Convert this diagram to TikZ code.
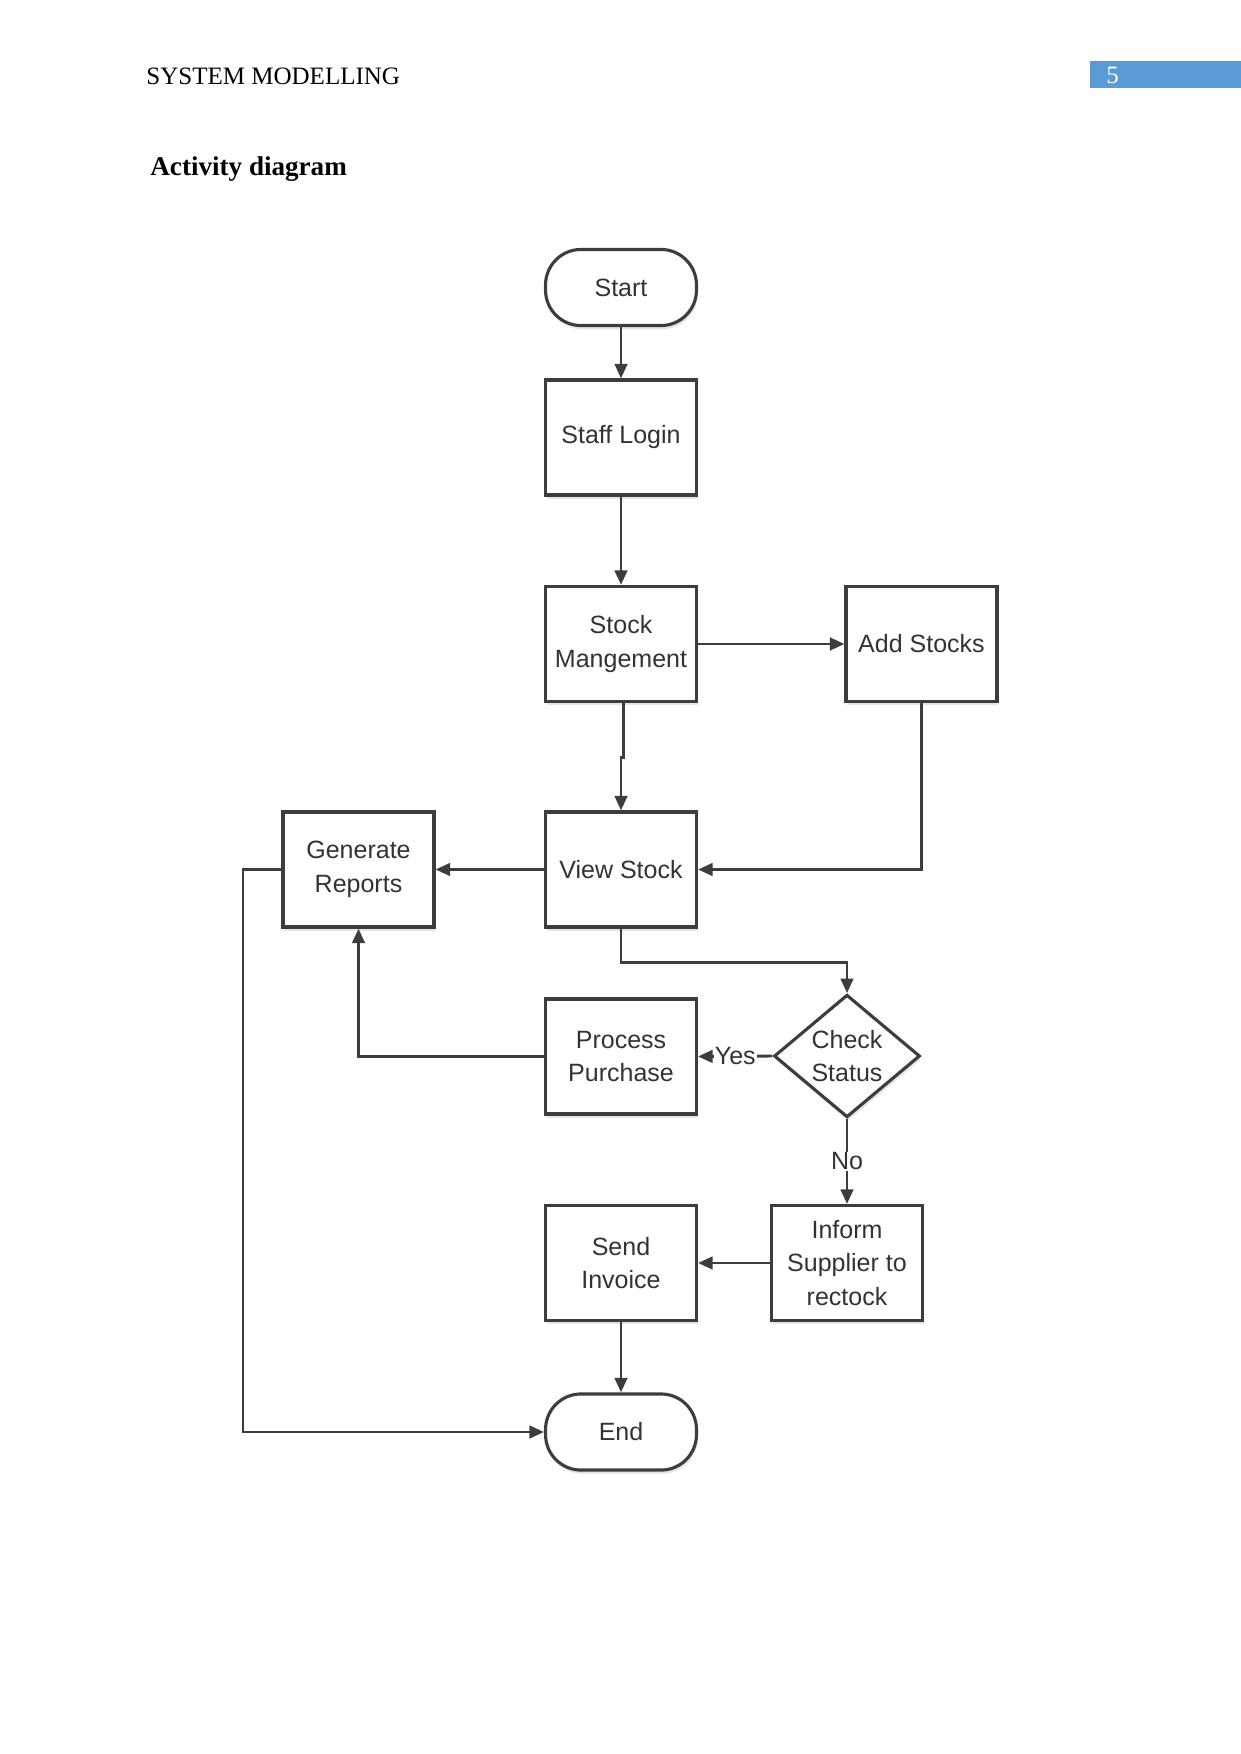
\documentclass[tikz,border=0pt]{standalone}
\usepackage{fontspec}
\setmainfont{Liberation Serif}
\newfontfamily\arialfont{Liberation Sans}
\usetikzlibrary{arrows.meta,shapes.geometric,shadows,calc}
\definecolor{ink}{HTML}{3D3D40}
\definecolor{txt}{HTML}{333333}
\definecolor{pgblue}{HTML}{5B9BD5}
\tikzset{
  shade/.style={drop shadow={fill=black,opacity=0.10,shadow xshift=0.6pt,shadow yshift=-1.8pt}},
  actbox/.style={draw=ink,line width=1.5pt,fill=white,shade,minimum width=72.4pt,minimum height=55.2pt,
    align=center,text=txt,font=\arialfont\fontsize{12}{16}\selectfont,inner sep=2pt},
  termbox/.style={actbox,rounded corners=17pt,minimum height=36.5pt},
  decbox/.style={draw=ink,line width=1.5pt,fill=white,shade,diamond,minimum width=70pt,minimum height=51pt,
    align=center,text=txt,font=\arialfont\fontsize{12}{16}\selectfont,inner sep=0pt},
  conn/.style={draw=ink,line width=1.4pt,-{Triangle[length=7pt,width=6pt]}},
  lbl/.style={fill=white,text=txt,font=\arialfont\fontsize{12}{14}\selectfont,inner sep=0.5pt}
}
\begin{document}
\begin{tikzpicture}[x=0.4797pt,y=-0.4797pt]
\path[use as bounding box] (0,0) rectangle (1241,1754);
% header
\node[anchor=base west,inner sep=0,font=\fontsize{12}{14}\selectfont] (hdr) at (146,85) {SYSTEM MODELLING};
\fill[pgblue] (1090,61) rectangle (1241,88);
\node[anchor=base west,inner sep=0,text=white,font=\fontsize{12}{14}\selectfont] (pg) at (1106,84) {5};
\node[anchor=base west,inner sep=0,font=\bfseries\fontsize{13}{15}\selectfont] (title) at (150,175) {Activity diagram};
% nodes
\node[termbox] (start) at (621,287.5) {Start};
\node[actbox] (login) at (621,437.5) {Staff Login};
\node[actbox] (sm) at (621,644) {Stock\\Mangement};
\node[actbox] (add) at (921.5,644) {Add Stocks};
\node[actbox] (vs) at (621,869.5) {View Stock};
\node[actbox] (gr) at (358.5,869.5) {Generate\\Reports};
\node[decbox] (cs) at (847,1056) {Check\\Status};
\node[actbox] (pp) at (621,1056.5) {Process\\Purchase};
\node[actbox] (inf) at (847,1263) {Inform\\Supplier to\\rectock};
\node[actbox] (si) at (621,1263) {Send\\Invoice};
\node[termbox] (end) at (621,1432) {End};
% connectors
\draw[conn] (start) -- (login);
\draw[conn] (login) -- (sm);
\draw[conn] (sm) -- (add);
\coordinate (j1) at ([xshift=1pt]sm.south);
\coordinate (j2) at ($(sm.south)+(0,54)$);
\draw[conn] (j1) -- ($(j1)+(0,54)$) -- (j2) -- (vs.north);
\draw[conn] (add.south) |- (vs.east);
\draw[conn] (vs) -- (gr);
\coordinate (k1) at ($(vs.south)+(0,34)$);
\draw[conn] (vs.south) -- (k1) -| (cs.north);
\draw[conn] (cs.west) -- node[lbl,pos=0.5] {Yes} (pp.east);
\draw[conn] (pp.west) -| (gr.south);
\draw[conn] (cs.south) -- node[lbl,pos=0.5] {No} (inf.north);
\draw[conn] (inf) -- (si);
\draw[conn] (si) -- (end);
\coordinate (lft) at (243,869.5);
\draw[conn] (gr.west) -- (lft) |- (end.west);
\end{tikzpicture}
\end{document}
